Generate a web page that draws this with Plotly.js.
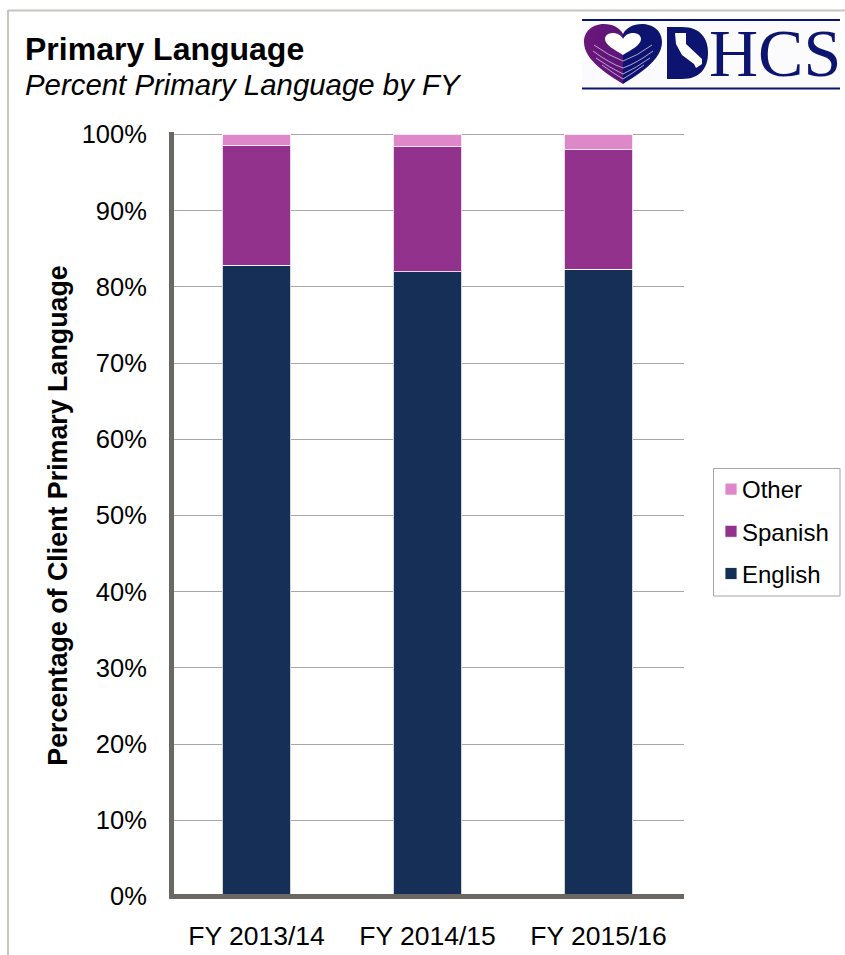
<!DOCTYPE html>
<html>
<head>
<meta charset="utf-8">
<script src="https://cdn.plot.ly/plotly-3.0.1.min.js"></script>
<style>html,body{margin:0;padding:0;background:#fff}#c{width:845px;height:955px}</style>
</head>
<body>
<div id="c"></div>
<script>
var categories = ["FY 2013/14", "FY 2014/15", "FY 2015/16"];
var english = [82.8, 82.0, 82.3];
var spanish = [15.7, 16.4, 15.7];
var other = [1.5, 1.6, 2.0];
var yTicks = [0, 10, 20, 30, 40, 50, 60, 70, 80, 90, 100];

var FONT = '"Liberation Sans", Arial, sans-serif';
var L = 174, R = 684, T = 132, B = 899;
function px(x) { return (x - L) / (R - L); }
function py(y) { return 1 - (y - T) / (B - T); }

function bar(name, vals, color, rank) {
  return {
    type: 'bar', name: name, x: categories, y: vals, width: 0.4, legendgroup: name, legendrank: rank,
    marker: { color: color, line: { color: 'rgba(255,255,255,0.8)', width: 1 } },
    hoverinfo: 'name+y'
  };
}

var logoSvg = '<svg xmlns="http://www.w3.org/2000/svg" width="258" height="72" viewBox="0 0 258 72">' +
  '<defs><linearGradient id="p" x1="0" x2="1" y1="0" y2="0"><stop offset="0" stop-color="#6d1679"/><stop offset="1" stop-color="#5a1678"/></linearGradient></defs>' +
  '<rect width="258" height="72" fill="#fbfbfd"/>' +
  '<rect x="0" y="1" width="258" height="2" fill="#0d1470"/><rect x="0" y="69.5" width="258" height="2" fill="#0d1470"/>' +
  '<path d="M41 66C25 56 2 42 2 24C2 12 12 6 22 6C31 6 38 10 41 16Z" fill="url(#p)"/>' +
  '<path d="M41 66C57 56 80 42 80 24C80 12 70 6 60 6C51 6 44 10 41 16Z" fill="#0d1470"/>' +
  '<path d="M41 37C33 32 23 27 23 21C23 17 27 15 31 15C35 15 39 17 41 21C43 17 47 15 51 15C55 15 59 17 59 21C59 27 49 32 41 37Z" fill="#fff"/>' +
  '<g fill="none" stroke="#d9c8e6" stroke-width="0.8">' +
  '<path d="M12 27Q27 38 41 43Q55 38 70 27"/><path d="M11 33Q27 45 41 50Q55 45 71 33"/><path d="M14 40Q28 50 41 56Q54 50 68 40"/><path d="M20 47Q31 55 41 61Q51 55 62 47"/></g>' +
  '<path d="M85 9H100C118 9 126 20 126 35C126 50 118 61 100 61H85Z" fill="#0d1470"/>' +
  '<path d="M93 15L104 15L104 26L120 41L120 46L114 50L112 46L100 37L94 26Z" fill="#fff"/>' +
  '</svg>';

var layout = {
  width: 845, height: 955,
  margin: { l: L, r: 845 - R, t: T, b: 955 - B, autoexpand: false },
  paper_bgcolor: '#fff', plot_bgcolor: '#fff',
  barmode: 'stack',
  font: { family: FONT, color: '#000', size: 24 },
  title: {
    text: '<b>Primary Language</b>', font: { family: FONT, size: 32, color: '#000' },
    x: 25 / 845, xanchor: 'left', xref: 'container',
    y: 1 - 49 / 955, yanchor: 'middle', yref: 'container'
  },
  xaxis: {
    type: 'category', categoryorder: 'array', categoryarray: categories,
    range: [-0.4825, 2.5], showgrid: false, showline: false, zeroline: false,
    ticks: 'outside', ticklen: 13, tickcolor: 'rgba(0,0,0,0)',
    tickfont: { family: FONT, size: 26.5, color: '#000' }
  },
  yaxis: {
    range: [-0.341, 100.315], tickvals: yTicks, ticktext: yTicks.map(function (v) { return v + '%'; }),
    showgrid: true, gridcolor: '#a9a7a5', gridwidth: 1,
    zeroline: false,
    showline: true, linecolor: '#6b6763', linewidth: 5,
    ticks: 'outside', ticklen: 17, tickcolor: 'rgba(0,0,0,0)',
    tickfont: { family: FONT, size: 25.5, color: '#000' },
    title: { text: '<b>Percentage of Client Primary Language</b>', font: { family: FONT, size: 26.8, color: '#000' }, standoff: 8 }
  },
  legend: {
    x: px(711), xanchor: 'left', y: py(467), yanchor: 'top',
    bgcolor: 'rgba(0,0,0,0)', borderwidth: 0,
    traceorder: 'grouped', tracegroupgap: 8,
    font: { family: FONT, size: 24, color: '#000' }
  },
  shapes: [
    { type: 'line', xref: 'paper', yref: 'paper', x0: px(8), x1: px(845), y0: py(10.5), y1: py(10.5), line: { color: '#c8c5c1', width: 2 } },
    { type: 'line', xref: 'paper', yref: 'paper', x0: px(8), x1: px(8), y0: py(10), y1: py(955), line: { color: '#c8c5c1', width: 2 } },
    { type: 'rect', xref: 'paper', yref: 'paper', x0: px(713.5), x1: px(840), y0: py(468.5), y1: py(596), line: { color: '#a8a49f', width: 1 }, fillcolor: '#fff', layer: 'below' },
    { type: 'line', xref: 'paper', yref: 'y', x0: 0, x1: 1, y0: 0, y1: 0, line: { color: '#6b6763', width: 5 }, layer: 'above' }
  ],
  annotations: [
    { xref: 'paper', yref: 'paper', x: px(23), y: py(84), xanchor: 'left', yanchor: 'middle', showarrow: false,
      text: '<i>Percent Primary Language by FY</i>', font: { family: FONT, size: 29.4, color: '#000' } },
    { xref: 'paper', yref: 'paper', x: px(775), y: py(53), xanchor: 'center', yanchor: 'middle', showarrow: false,
      text: 'HCS', font: { family: '"Liberation Serif", serif', size: 68, color: '#0d1470' } }
  ],
  images: [
    { source: 'data:image/svg+xml;charset=utf-8,' + encodeURIComponent(logoSvg),
      xref: 'paper', yref: 'paper', x: px(582), y: py(18), sizex: 258 / (R - L), sizey: 72 / (B - T),
      sizing: 'stretch', xanchor: 'left', yanchor: 'top', layer: 'below' }
  ]
};

var traces = [bar('English', english, '#162f56', 3), bar('Spanish', spanish, '#93328c', 2), bar('Other', other, '#de87c9', 1)];

Plotly.newPlot('c', traces, layout, { displayModeBar: false, responsive: false }).then(function () {
  document.querySelectorAll('#c .legendtext').forEach(function (t) {
    t.setAttribute('x', 31);
  });
});
</script>
</body>
</html>
